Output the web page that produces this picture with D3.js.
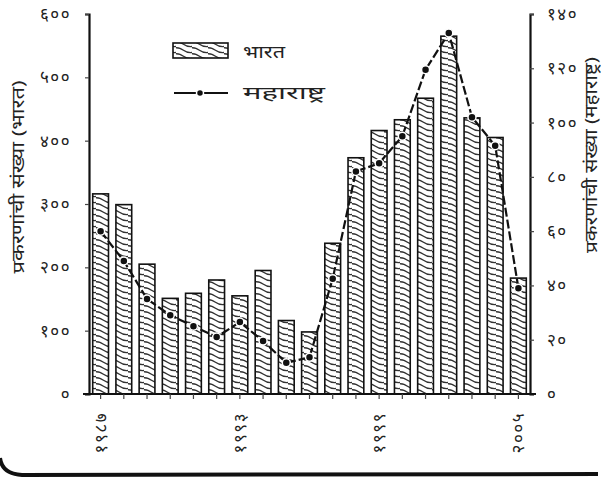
<!DOCTYPE html>
<html><head><meta charset="utf-8">
<script src="https://cdn.jsdelivr.net/npm/d3@7"></script>
<style>body{margin:0;background:#fff}svg{display:block}text{font-family:"Noto Sans","Noto Sans Devanagari",Lohit,sans-serif;fill:#222}</style>
</head><body><svg id="c" width="601" height="485"></svg>
<script>
const years = ["1987","1988","1989","1990","1991","1992","1993","1994","1995","1996","1997","1998","1999","2000","2001","2002","2003","2004","2005"];
const indiaValues = [316,299,205,151,159,180,155,195,116,98,238,373,416,433,467,565,436,405,183];
const maharashtraValues = [60,49,35,29,25,21,26.5,19.5,11.5,13.5,42.5,82,85,95,119.5,133,102,91.5,39];
const tickYears = ["1987","1993","1999","2005"];
const tickLabelsX = ["१९८७","१९९३","१९९९","२००५"];
const leftTicks = [0,100,200,300,400,500,600];
const rightTicks = [0,20,40,60,80,100,120,140];
const legendLabels = ["भारत","महाराष्ट्र"];
const leftTitle = "प्रकरणांची संख्या (भारत)";
const rightTitle = "प्रकरणांची संख्या (महाराष्ट्र)";

const dev = n => String(n).replace(/[0-9]/g, d => "०१२३४५६७८९"[+d]);

const svg = d3.select("#c");
const x0 = 89, x1 = 530, yTop = 14, yBot = 394;
const x = d3.scaleBand().domain(years).range([x0, x1]).paddingInner(0.32).paddingOuter(0.16);
const yL = d3.scaleLinear().domain([0,600]).range([yBot, yTop]);
const yR = d3.scaleLinear().domain([0,140]).range([yBot, yTop]);

// pattern
const defs = svg.append("defs");
const pat = defs.append("pattern").attr("id","wave").attr("patternUnits","userSpaceOnUse")
  .attr("width",16).attr("height",6);
pat.append("path").attr("d","M-2,0 Q3,-1 7,2 T16,4.5 M-2,6 Q3,5 7,8 T16,10.5 M-2,-6 Q3,-7 7,-4 T16,-1.5")
  .attr("fill","none").attr("stroke","#333").attr("stroke-width",1.3);

// bars
svg.append("g").selectAll("rect").data(indiaValues).join("rect")
  .attr("x",(d,i)=>x(years[i])).attr("width",x.bandwidth())
  .attr("y",d=>yL(d)).attr("height",d=>yBot-yL(d))
  .attr("fill","url(#wave)").attr("stroke","#111").attr("stroke-width",1.6);

// axes
const gL = svg.append("g").attr("transform",`translate(${x0},0)`)
  .call(d3.axisLeft(yL).tickValues(leftTicks).tickSize(4).tickPadding(14).tickFormat(dev));
const gR = svg.append("g").attr("transform",`translate(${x1},0)`)
  .call(d3.axisRight(yR).tickValues(rightTicks).tickSize(4).tickPadding(13).tickFormat(dev));
const gX = svg.append("g").attr("transform",`translate(0,${yBot})`)
  .call(d3.axisBottom(x).tickSize(5).tickFormat(d => { const k = tickYears.indexOf(d); return k>=0 ? tickLabelsX[k] : ""; }));
[gL,gR,gX].forEach(g=>{
  g.select(".domain").attr("stroke","#111").attr("stroke-width",2.2);
  g.selectAll(".tick line").attr("stroke","#444").attr("stroke-width",1.2);
  g.selectAll("text").attr("font-size",17).attr("letter-spacing",1.5).attr("fill","#333");
});
gX.select(".domain").attr("d",`M${x0-6},0H${x1+6}`);
gX.selectAll(".tick text").attr("transform","rotate(-90)").attr("text-anchor","end")
  .attr("x",-18).attr("y",0).attr("dy","0.35em");

// line
const line = d3.line().x((d,i)=>x(years[i])+x.bandwidth()/2).y(d=>yR(d));
svg.append("path").datum(maharashtraValues).attr("d",line)
  .attr("fill","none").attr("stroke","#111").attr("stroke-width",2.2).attr("stroke-dasharray","9,3");
svg.append("g").selectAll("circle").data(maharashtraValues).join("circle")
  .attr("cx",(d,i)=>x(years[i])+x.bandwidth()/2).attr("cy",d=>yR(d)).attr("r",4)
  .attr("fill","#111").attr("stroke","#fff").attr("stroke-width",1.5);

// titles
svg.append("text").attr("transform","translate(24,177) rotate(-90)").attr("text-anchor","middle")
  .attr("font-size",17).attr("textLength",193).attr("lengthAdjust","spacingAndGlyphs").text(leftTitle);
svg.append("text").attr("transform","translate(597,155) rotate(-90)").attr("text-anchor","middle")
  .attr("font-size",17).attr("textLength",196).attr("lengthAdjust","spacingAndGlyphs").text(rightTitle);

// legend
const lg = svg.append("g");
lg.append("rect").attr("x",173).attr("y",43).attr("width",55).attr("height",15)
  .attr("fill","url(#wave)").attr("stroke","#111").attr("stroke-width",1.6);
lg.append("text").attr("x",243).attr("y",58).attr("font-size",18).attr("textLength",42).attr("lengthAdjust","spacingAndGlyphs").text(legendLabels[0]);
lg.append("line").attr("x1",174).attr("x2",228).attr("y1",93).attr("y2",93)
  .attr("stroke","#111").attr("stroke-width",2.2);
lg.append("circle").attr("cx",200).attr("cy",93).attr("r",3.5).attr("fill","#111").attr("stroke","#fff").attr("stroke-width",1.5);
lg.append("text").attr("x",243).attr("y",99).attr("font-size",18).attr("textLength",82).attr("lengthAdjust","spacingAndGlyphs").text(legendLabels[1]);

// frame at bottom
svg.append("path").attr("d","M0,458 Q2,474 22,475 L598,474").attr("fill","none")
  .attr("stroke","#111").attr("stroke-width",4);
</script></body></html>
